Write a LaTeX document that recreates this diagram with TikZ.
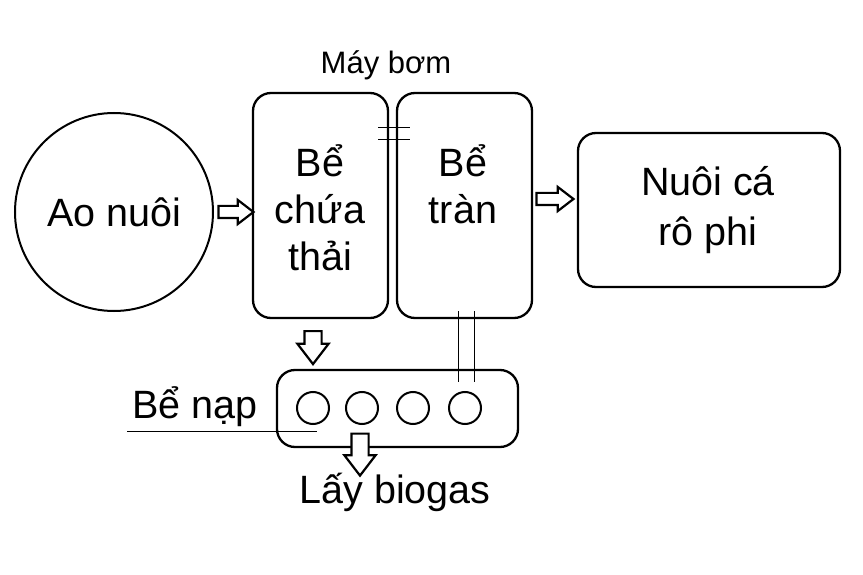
\documentclass[tikz,border=0pt]{standalone}
\usepackage{fontspec}
\setmainfont{Liberation Sans}
\usetikzlibrary{shapes.arrows,calc}

\begin{document}
\begin{tikzpicture}
      [%%%%%%%%%%%%%%%%%%%%%%%%%%%%%%
      x=1pt,y=-1pt,
      big/.style={font=\fontsize{39.5}{47}\selectfont,align=center,inner sep=0pt},
      tank/.style={rectangle,rounded corners=18pt,draw=black,line width=2.3pt,
        minimum width=135pt,minimum height=225pt,big},
      pond/.style={circle,draw=black,line width=2pt,minimum size=198pt,inner sep=0pt,big},
      hole/.style={circle,draw=black,line width=2pt,minimum size=32pt,inner sep=0pt},
      pipe/.style={draw=black,line width=0.9pt},
      flow/.style={single arrow,draw=black,line width=2.2pt,fill=white,inner xsep=0pt,
        inner ysep=5pt,text height=0pt,text depth=0pt,text width=0pt,
        single arrow head extend=6pt,single arrow tip angle=75,minimum height=35pt},
      fat/.style={inner ysep=7.5pt,single arrow head extend=7pt},
      ]%%%%%%%%%%%%%%%%%%%%%%%%%%%%%%
      \useasboundingbox (0,0) rectangle (863,575);

      \node[pond] (ao) at (114,212) {Ao nuôi};
      \node[tank] (chua) at (320.5,205.5) {};
      \node[big] (chuatxt) at (320,208) {Bể\\chứa\\thải};
      \node[tank] (tran) at (464.5,205.5) {};
      \node[big] (trantxt) at (463,184) {Bể\\tràn};
      \node[tank,minimum width=262pt,minimum height=154pt] (ca) at (709,210) {};
      \node[big,font=\fontsize{39.5}{50}\selectfont] (catxt) at (708,210) {Nuôi cá\\rô phi};
      \node[tank,minimum width=241pt,minimum height=77pt] (nap) at (397.5,408.5) {};
      \foreach \i/\x in {1/313,2/362,3/413,4/465}
        \node[hole] (h\i) at (\x,408) {};

      \node[font=\fontsize{31}{36}\selectfont,inner sep=0pt] (bom) at (386,65) {Máy bơm};
      \node[big] (naptxt) at (195,407) {Bể nạp};
      \node[big] (biogas) at (395,492) {Lấy biogas};

      % pipes
      \draw[pipe] ($(chua.north east)+(-11,36)$) -- ($(tran.north west)+(14,36)$);
      \draw[pipe] ($(chua.north east)+(-11,48)$) -- ($(tran.north west)+(14,48)$);
      \draw[pipe] ($(tran.south)+(-6.5,-8)$) -- ($(nap.north -| tran.south)+(-6.5,13)$);
      \draw[pipe] ($(tran.south)+(9.5,-8)$) -- ($(nap.north -| tran.south)+(9.5,13)$);
      \coordinate (ul1) at (127,431);
      \coordinate (ul2) at (317,431);
      \draw[pipe] (ul1) -- (ul2);

      % arrows
      \node[flow] (a1) at (232,212) {};
      \node[flow,minimum height=37pt] (a2) at (551,199) {};
      \node[flow,fat,rotate=-90,minimum height=33pt] (a3) at (313,342) {};
      \node[flow,fat,rotate=-90,minimum height=42pt] (a4) at (360,449) {};
    \end{tikzpicture}
\end{document}
